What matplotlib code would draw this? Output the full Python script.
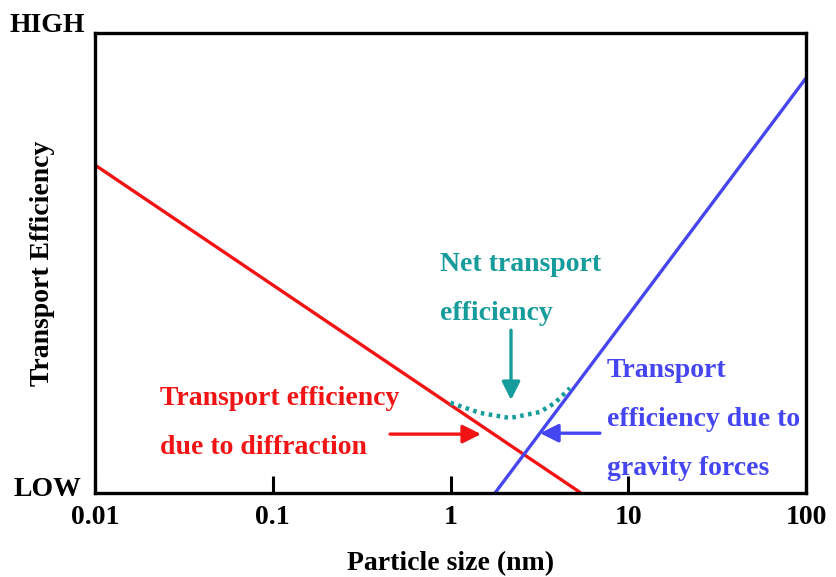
import numpy as np
import matplotlib.pyplot as plt

plt.rcParams["font.family"] = ["Liberation Serif", "DejaVu Serif"]
plt.rcParams["font.weight"] = "bold"
plt.rcParams["axes.labelweight"] = "bold"

# data (x in nm, y as fraction of LOW..HIGH)
diff_x = [0.01, 5.42]
diff_y = [0.713, 0.0]
grav_x = [1.78, 100]
grav_y = [0.0, 0.902]
net_x = [1.0, 1.47, 2.16, 3.18, 3.87, 4.7]
net_y = [0.196, 0.174, 0.163, 0.176, 0.196, 0.228]
xticks = [0.01, 0.1, 1, 10, 100]
xtick_labels = ["0.01", "0.1", "1", "10", "100"]

red = "#f21414"
blue = "#4646f0"
teal = "#179c9c"

fig = plt.figure(figsize=(8.36, 5.77), dpi=100)
ax = fig.add_axes([95 / 836, 1 - 493 / 577, 711 / 836, 460 / 577])

ax.plot(diff_x, diff_y, color=red, lw=2.4, solid_capstyle="butt")
ax.plot(grav_x, grav_y, color=blue, lw=2.4, solid_capstyle="butt")
ax.plot(net_x, net_y, color=teal, lw=3.2, ls=(0, (0.8, 1.0)))

ax.set_xscale("log")
ax.set_xlim(0.01, 100)
ax.set_ylim(0, 1)
ax.set_xticks(xticks)
ax.set_xticklabels(xtick_labels)
ax.minorticks_off()
ax.set_yticks([])
ax.tick_params(axis="x", direction="in", length=12, width=2.2, labelsize=20, pad=9)
for s in ax.spines.values():
    s.set_linewidth(2.4)

ax.set_xlabel("Particle size (nm)", fontsize=20, labelpad=15)
ax.set_ylabel("Transport Efficiency", fontsize=20)
ax.yaxis.set_label_coords(-0.056, 0.5)

fig.text(47 / 836, 1 - 25 / 577, "HIGH", fontsize=20, ha="center", va="center")
fig.text(47 / 836, 1 - 490 / 577, "LOW", fontsize=20, ha="center", va="center")

# annotations
arrow = dict(arrowstyle="-|>,head_length=1.1,head_width=0.55", lw=2.4, shrinkA=0, shrinkB=0)
ax.annotate("", xy=(2.19, 0.202), xytext=(2.19, 0.354),
            arrowprops=dict(arrow, color=teal))
ax.annotate("", xy=(1.485, 0.128), xytext=(0.457, 0.128),
            arrowprops=dict(arrow, color=red))
ax.annotate("", xy=(3.19, 0.130), xytext=(6.93, 0.130),
            arrowprops=dict(arrow, color=blue))

ax.text(0.485, 0.443, "Net transport\nefficiency", transform=ax.transAxes,
        color=teal, fontsize=20, ha="left", va="center", linespacing=2.25)
ax.text(0.0914, 0.152, "Transport efficiency\ndue to diffraction", transform=ax.transAxes,
        color=red, fontsize=20, ha="left", va="center", linespacing=2.25)
ax.text(0.720, 0.160, "Transport\nefficiency due to\ngravity forces", transform=ax.transAxes,
        color=blue, fontsize=20, ha="left", va="center", linespacing=2.25)

fig.savefig("out.png", dpi=100)
